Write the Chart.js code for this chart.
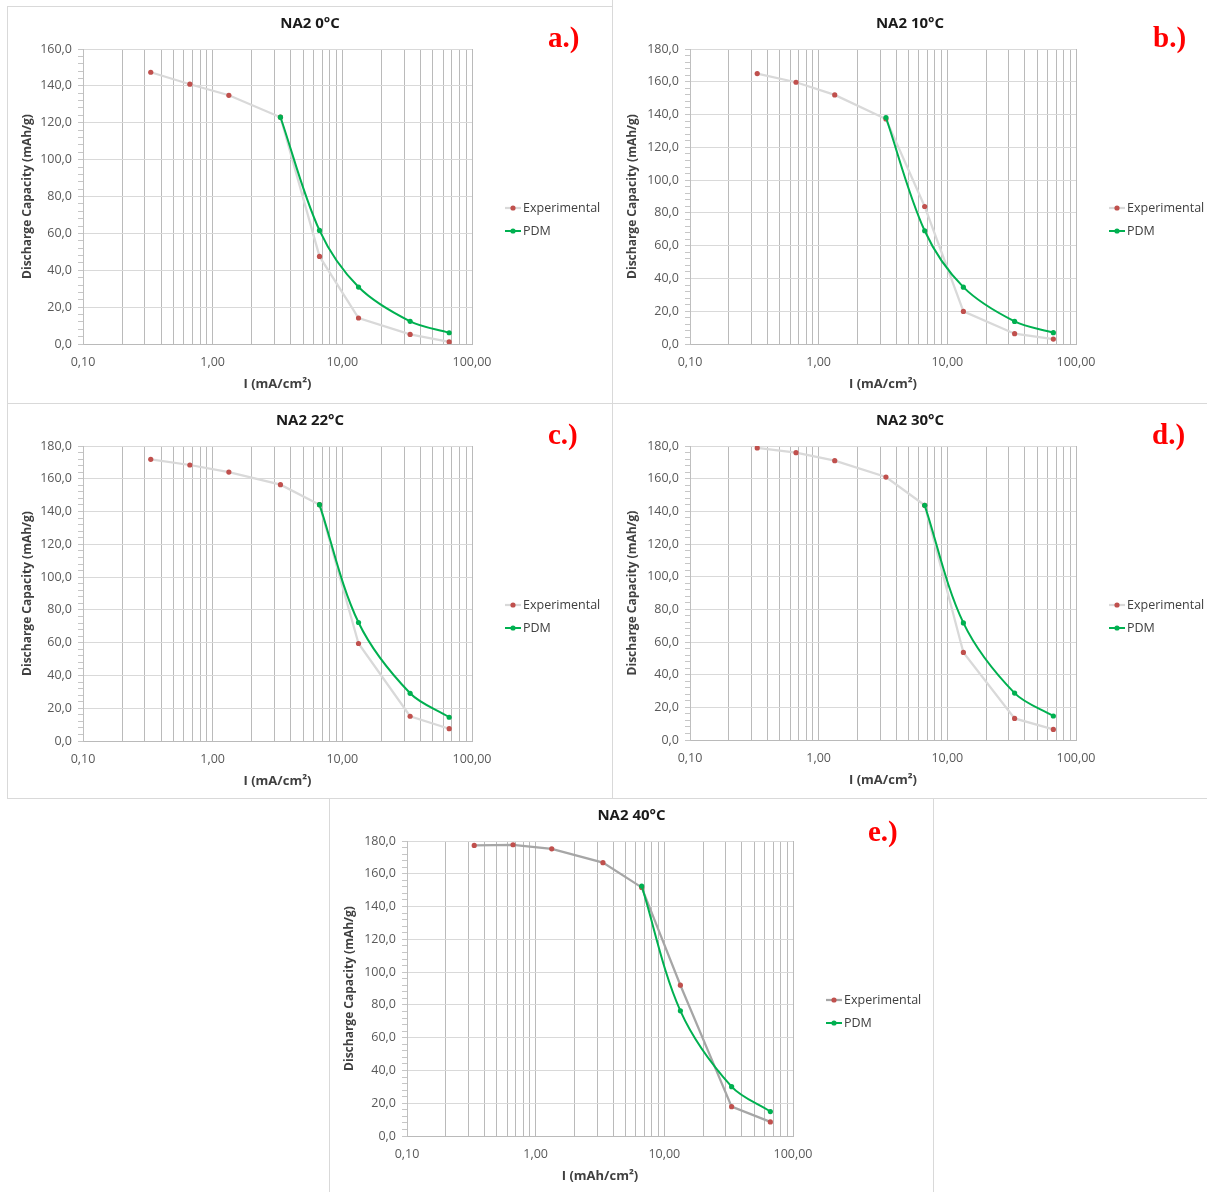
<!DOCTYPE html>
<html>
<head>
<meta charset="utf-8">
<title>NA2 discharge capacity</title>
<script src="https://cdn.jsdelivr.net/npm/chart.js@4.4.1/dist/chart.umd.min.js"></script>
<style>
    html, body { margin: 0; padding: 0; background: #fff; }
    body { position: relative; width: 1207px; height: 1192px; overflow: hidden; }
    .panel { position: absolute; box-sizing: border-box; border: 1px solid #d9d9d9; background: #fff; }
    .panel canvas { position: absolute; left: 0; top: 0; }
    .tag { position: absolute; font: bold 29px "Liberation Serif", "Times New Roman", serif; color: #ff0000; line-height: 1; }
</style>
</head>
<body>
<script>
// Current density (mA/cm²) used at every temperature
const currentDensity = [0.333, 0.667, 1.333, 3.333, 6.667, 13.33, 33.33, 66.67];

// Discharge capacity (mAh/g), measured
const exp0C  = [147.4, 140.9, 134.9, 123.0, 47.5, 14.1, 5.2, 1.1];
const exp10C = [165.0, 159.7, 152.0, 137.3, 83.9, 19.9, 6.3, 3.0];
const exp22C = [171.9, 168.4, 164.1, 156.4, 144.2, 59.5, 15.1, 7.5];
const exp30C = [178.8, 175.9, 171.0, 161.0, 143.7, 53.6, 13.2, 6.5];
const exp40C = [177.3, 177.7, 175.2, 166.8, 151.7, 92.0, 17.9, 8.6];

// Discharge capacity (mAh/g), PDM model (null = not simulated)
const pdm0C  = [null, null, null, 123.0, 61.6, 30.9, 12.3, 6.1];
const pdm10C = [null, null, null, 138.2, 69.1, 34.7, 13.8, 6.9];
const pdm22C = [null, null, null, null, 144.2, 72.3, 29.1, 14.5];
const pdm30C = [null, null, null, null, 143.7, 71.7, 28.7, 14.7];
const pdm40C = [null, null, null, null, 152.5, 76.4, 30.1, 14.9];

// log axis grid lines and the ones that get a label
const xGridValues = [0.1, 0.2, 0.3, 0.4, 0.5, 0.6, 0.7, 0.8, 0.9,
                     1, 2, 3, 4, 5, 6, 7, 8, 9,
                     10, 20, 30, 40, 50, 60, 70, 80, 90, 100];
const xLabelValues = [0.1, 1, 10, 100];

const FONT = '"Open Sans", "Noto Sans", sans-serif';

// box = panel frame [left, top, width, height], plot = chart area [left, top, right, bottom]
const panels = [
    { title: 'NA2 0°C',  tag: 'a.)', exp: exp0C,  pdm: pdm0C,  yMax: 160, xTitle: 'I (mA/cm²)',  expLine: '#d9d9d9',
      box: [7, 6, 606, 398],    plot: [83, 49, 472, 344],    tagAt: [548, 23] },
    { title: 'NA2 10°C', tag: 'b.)', exp: exp10C, pdm: pdm10C, yMax: 180, xTitle: 'I (mA/cm²)',  expLine: '#d9d9d9',
      box: [612, -1, 596, 405], plot: [690, 49, 1076, 344],  tagAt: [1153, 23] },
    { title: 'NA2 22°C', tag: 'c.)', exp: exp22C, pdm: pdm22C, yMax: 180, xTitle: 'I (mA/cm²)',  expLine: '#d9d9d9',
      box: [7, 403, 606, 396],  plot: [83, 446, 472, 741],   tagAt: [548, 420] },
    { title: 'NA2 30°C', tag: 'd.)', exp: exp30C, pdm: pdm30C, yMax: 180, xTitle: 'I (mA/cm²)',  expLine: '#d9d9d9',
      box: [612, 403, 596, 396], plot: [690, 446, 1076, 740], tagAt: [1152, 420] },
    { title: 'NA2 40°C', tag: 'e.)', exp: exp40C, pdm: pdm40C, yMax: 180, xTitle: 'I (mAh/cm²)', expLine: '#a6a6a6',
      box: [329, 798, 605, 396], plot: [407, 841, 793, 1136], tagAt: [868, 817] }
];

const X_AXIS_H = 52;

// Title above the plot and the Excel-like legend on the right
const panelText = {
    id: 'panelText',
    afterDraw(chart, args, opts)
    {
        const { ctx, chartArea, width } = chart;
        ctx.save();
        ctx.textBaseline = 'middle';

        ctx.fillStyle = '#1a1a1a';
        ctx.textAlign = 'center';
        ctx.font = 'bold 15px ' + FONT;
        ctx.fillText(opts.title, width / 2, chartArea.top - 25);

        ctx.textAlign = 'left';
        chart.data.datasets.forEach((ds, i) =>
        {
            const x = chartArea.right + 33;
            const y = chartArea.top + 159 + i * 23;

            ctx.strokeStyle = ds.borderColor;
            ctx.lineWidth = ds.borderWidth;
            ctx.beginPath();
            ctx.moveTo(x, y);
            ctx.lineTo(x + 16, y);
            ctx.stroke();

            ctx.fillStyle = ds.pointBackgroundColor;
            ctx.beginPath();
            ctx.arc(x + 8, y, 2.6, 0, Math.PI * 2);
            ctx.fill();

            ctx.fillStyle = '#404040';
            ctx.font = '12.5px ' + FONT;
            ctx.fillText(ds.label, x + 18, y);
        });
        ctx.restore();
    }
};

function toPoints(values)
{
    const pts = [];
    values.forEach((v, i) =>
    {
        if (v !== null) pts.push({ x: currentDensity[i], y: v });
    });
    return pts;
}

function formatComma(value, digits)
{
    return value.toFixed(digits).replace('.', ',');
}

panels.forEach(p =>
{
    const [bx, by, bw, bh] = p.box;
    const [pl, pt, pr, pb] = p.plot;

    const div = document.createElement('div');
    div.className = 'panel';
    div.style.left = bx + 'px';
    div.style.top = by + 'px';
    div.style.width = bw + 'px';
    div.style.height = bh + 'px';
    document.body.appendChild(div);

    // canvas sits inside the 1px frame
    const cl = bx + 1, ct = by + 1, cw = bw - 2, ch = bh - 2;
    const canvas = document.createElement('canvas');
    canvas.width = cw;
    canvas.height = ch;
    div.appendChild(canvas);

    const tag = document.createElement('div');
    tag.className = 'tag';
    tag.textContent = p.tag;
    tag.style.left = p.tagAt[0] + 'px';
    tag.style.top = p.tagAt[1] + 'px';
    document.body.appendChild(tag);

    const yAxisW = pl - cl;

    new Chart(canvas.getContext('2d'), {
        type: 'line',
        data: {
            datasets: [
                {
                    label: 'Experimental',
                    data: toPoints(p.exp),
                    borderColor: p.expLine,
                    borderWidth: 2.25,
                    tension: 0,
                    pointRadius: 2.6,
                    pointBorderWidth: 0,
                    pointBackgroundColor: '#c0504d',
                    pointBorderColor: '#c0504d',
                    order: 1
                },
                {
                    label: 'PDM',
                    data: toPoints(p.pdm),
                    borderColor: '#00b050',
                    borderWidth: 2,
                    tension: 0.33,
                    pointRadius: 2.6,
                    pointBorderWidth: 0,
                    pointBackgroundColor: '#00b050',
                    pointBorderColor: '#00b050',
                    order: 0
                }
            ]
        },
        options: {
            responsive: false,
            animation: false,
            events: [],
            layout: {
                padding: { left: 0, top: pt - ct, right: cl + cw - pr, bottom: ct + ch - pb - X_AXIS_H }
            },
            plugins: {
                legend: { display: false },
                tooltip: { enabled: false },
                panelText: { title: p.title }
            },
            scales: {
                x: {
                    type: 'logarithmic',
                    min: 0.1,
                    max: 100,
                    afterBuildTicks: s => { s.ticks = xGridValues.map(v => ({ value: v })); },
                    afterFit: s => { s.height = X_AXIS_H; },
                    grid: { color: '#bababa', drawTicks: false },
                    border: { color: '#bababa' },
                    ticks: {
                        autoSkip: false,
                        maxRotation: 0,
                        padding: 11,
                        color: '#595959',
                        font: { family: FONT, size: 12.5 },
                        callback: v => xLabelValues.includes(v) ? formatComma(v, 2) : ''
                    },
                    title: {
                        display: true,
                        text: p.xTitle,
                        color: '#404040',
                        font: { family: FONT, size: 13, weight: 'bold' },
                        padding: { top: 0, bottom: 4 }
                    }
                },
                y: {
                    min: 0,
                    max: p.yMax,
                    afterFit: s => { s.width = yAxisW; },
                    grid: {
                        color: c => (c.tick && c.tick.value % 20 === 0) ? '#d9d9d9' : 'rgba(0,0,0,0)',
                        tickColor: '#c6c6c6',
                        tickLength: 5
                    },
                    border: { color: '#bfbfbf' },
                    ticks: {
                        stepSize: 4,
                        autoSkip: false,
                        padding: 6,
                        color: '#595959',
                        font: { family: FONT, size: 12.5 },
                        callback: v => v % 20 === 0 ? formatComma(v, 1) : ''
                    },
                    title: {
                        display: true,
                        text: 'Discharge Capacity (mAh/g)',
                        color: '#404040',
                        font: { family: FONT, size: 12, weight: 'bold' },
                        padding: { top: 12, bottom: 0 }
                    }
                }
            }
        },
        plugins: [panelText]
    });
});
</script>
</body>
</html>
